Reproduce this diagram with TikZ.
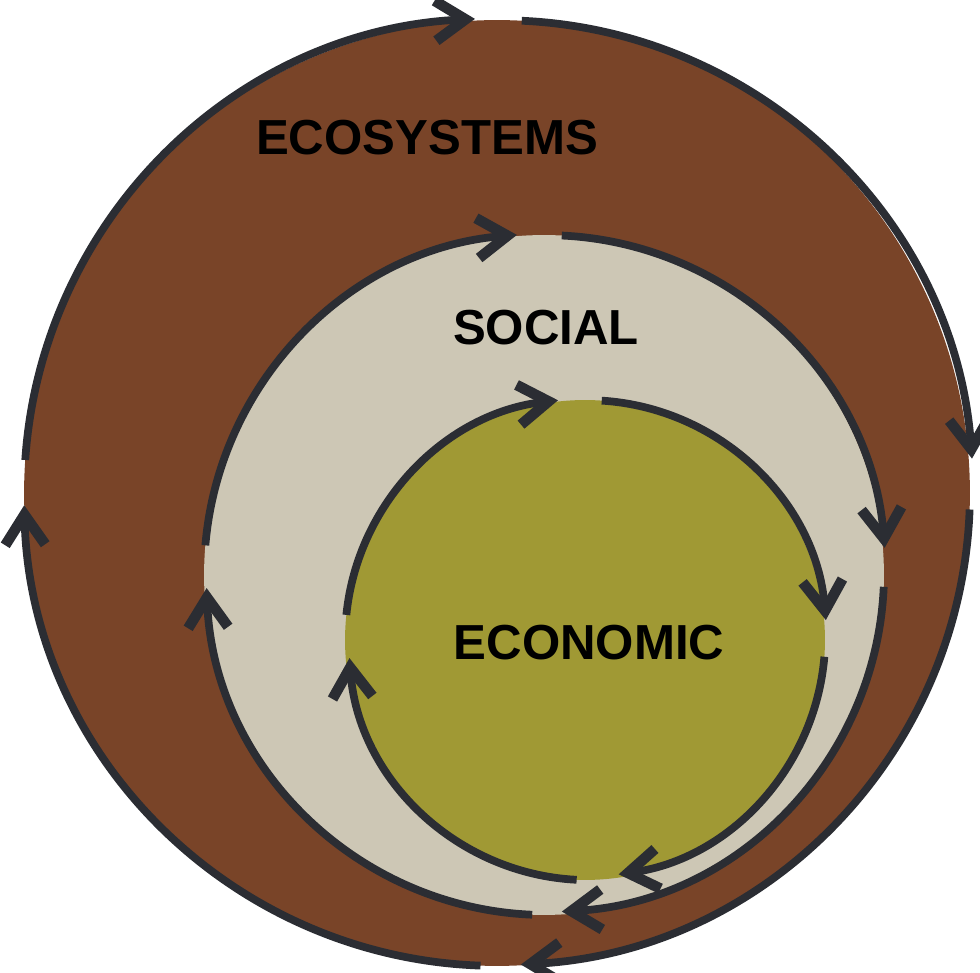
\documentclass[tikz,border=0pt]{standalone}
\usepackage{fontspec}
\setmainfont{Liberation Sans}
\usetikzlibrary{arrows.meta}
\definecolor{ecobrown}{RGB}{121,68,40}
\definecolor{socbeige}{RGB}{205,199,181}
\definecolor{econolive}{RGB}{160,153,52}
\definecolor{cyclegray}{RGB}{43,45,51}

\begin{document}
\begin{tikzpicture}[x=0.02cm,y=0.02cm,
	ring/.style={circle, inner sep=0pt, outer sep=0pt},
	cycle/.style={color=cyclegray, line width=4.4pt,
		-{Straight Barb[length=6mm, width=8mm, line width=6pt]}},
	label/.style={anchor=base, font=\fontsize{28}{30}\selectfont\bfseries, text=black}]
	\useasboundingbox (0,0) rectangle (980,973);
	% filled circles
	\node [ring, fill=ecobrown, minimum size=18.92cm] (eco) at (497,480) {};
	\node [ring, fill=socbeige, minimum size=13.6cm] (soc) at (544,398) {};
	\node [ring, fill=econolive, minimum size=9.6cm] (econ) at (585,333) {};
	% ecosystems cycle
	\draw [cycle] (eco.87.4) arc[start angle=87.4, end angle=4.2, radius=473];
	\draw [cycle] (eco.-2.1) arc[start angle=-2.1, end angle=-87.1, radius=473];
	\draw [cycle] (eco.-92) arc[start angle=-92, end angle=-178.5, radius=473];
	\draw [cycle] (eco.176.2) arc[start angle=176.2, end angle=92.7, radius=473];
	% social cycle
	\draw [cycle] (soc.87.3) arc[start angle=87.3, end angle=4.6, radius=340];
	\draw [cycle] (soc.-2.5) arc[start angle=-2.5, end angle=-87, radius=340];
	\draw [cycle] (soc.-92.4) arc[start angle=-92.4, end angle=-177.8, radius=340];
	\draw [cycle] (soc.175.2) arc[start angle=175.2, end angle=94.6, radius=340];
	% economic cycle
	\draw [cycle] (econ.86.4) arc[start angle=86.4, end angle=4.8, radius=240];
	\draw [cycle] (econ.-4.8) arc[start angle=-4.8, end angle=-82, radius=240];
	\draw [cycle] (econ.-92.9) arc[start angle=-92.9, end angle=-175.7, radius=240];
	\draw [cycle] (econ.174.3) arc[start angle=174.3, end angle=96.5, radius=240];
	% labels
	\node [label] (ecolabel) at (427,818) {ECOSYSTEMS};
	\node [label] (soclabel) at (546,628) {SOCIAL};
	\node [label] (econlabel) at (589,313) {ECONOMIC};
\end{tikzpicture}
\end{document}
